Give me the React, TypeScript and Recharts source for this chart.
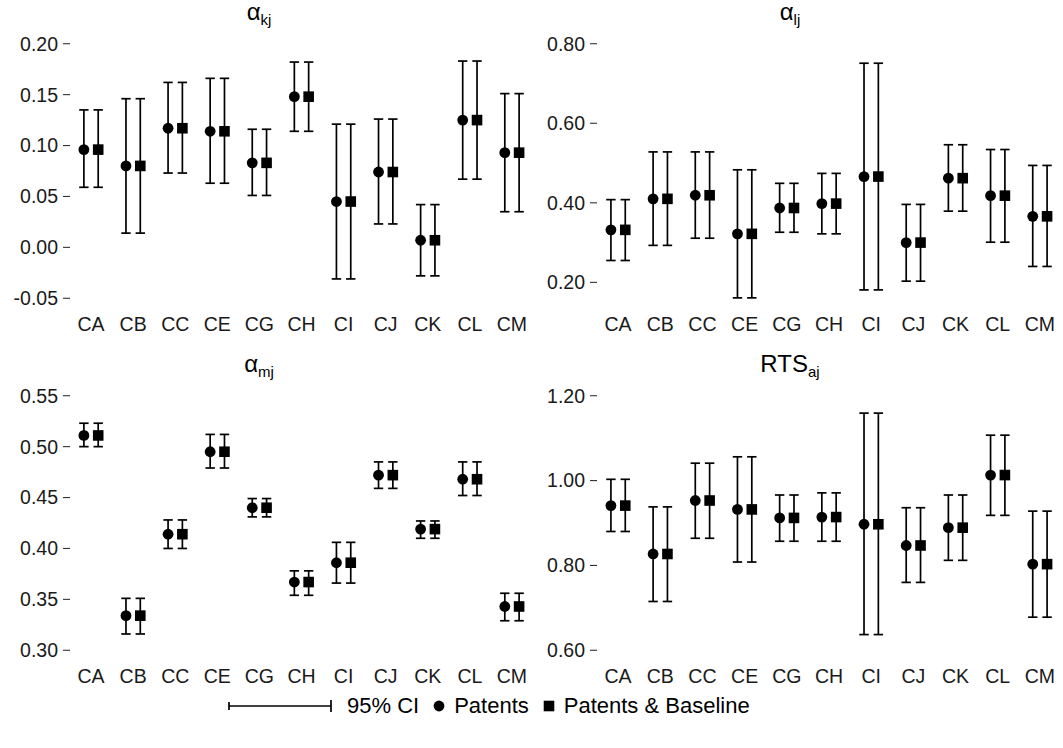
import { ScatterChart, Scatter, XAxis, YAxis, ErrorBar } from 'recharts'

const categories = ['CA', 'CB', 'CC', 'CE', 'CG', 'CH', 'CI', 'CJ', 'CK', 'CL', 'CM']

// alpha_kj
const kjEst = [0.096, 0.080, 0.117, 0.114, 0.083, 0.148, 0.045, 0.074, 0.007, 0.125, 0.093]
const kjLow = [0.059, 0.014, 0.073, 0.063, 0.051, 0.114, -0.031, 0.023, -0.028, 0.067, 0.035]
const kjHigh = [0.135, 0.146, 0.162, 0.166, 0.116, 0.182, 0.121, 0.126, 0.042, 0.183, 0.151]
const kjTicks = [-0.05, 0, 0.05, 0.1, 0.15, 0.2]

// alpha_lj
const ljEst = [0.332, 0.410, 0.419, 0.322, 0.387, 0.398, 0.466, 0.300, 0.462, 0.418, 0.366]
const ljLow = [0.255, 0.293, 0.311, 0.161, 0.326, 0.322, 0.181, 0.203, 0.379, 0.301, 0.240]
const ljHigh = [0.408, 0.528, 0.528, 0.483, 0.449, 0.474, 0.751, 0.396, 0.546, 0.534, 0.494]
const ljTicks = [0.2, 0.4, 0.6, 0.8]

// alpha_mj
const mjEst = [0.511, 0.334, 0.414, 0.495, 0.440, 0.367, 0.386, 0.472, 0.419, 0.468, 0.343]
const mjLow = [0.500, 0.316, 0.400, 0.479, 0.431, 0.354, 0.366, 0.459, 0.410, 0.452, 0.329]
const mjHigh = [0.523, 0.351, 0.428, 0.512, 0.449, 0.378, 0.406, 0.485, 0.427, 0.485, 0.356]
const mjTicks = [0.3, 0.35, 0.4, 0.45, 0.5, 0.55]

// RTS_aj
const rtsEst = [0.941, 0.827, 0.953, 0.932, 0.912, 0.914, 0.897, 0.847, 0.889, 1.013, 0.803]
const rtsLow = [0.880, 0.715, 0.864, 0.808, 0.857, 0.857, 0.637, 0.760, 0.812, 0.918, 0.678]
const rtsHigh = [1.003, 0.938, 1.041, 1.056, 0.966, 0.971, 1.159, 0.936, 0.966, 1.107, 0.928]
const rtsTicks = [0.6, 0.8, 1.0, 1.2]

const DODGE = 0.17
const FONT = '"Liberation Sans", Arial, Helvetica, sans-serif'
const TEXT = '#1a1a1a'

const rows = (est: number[], low: number[], high: number[], shift: number) =>
  est.map((v, i) => ({ x: i + 1 + shift, y: v, err: [v - low[i], high[i] - v] }))

const Dot = (p: any) => <circle cx={p.cx} cy={p.cy} r={5.4} fill="#000" />
const Square = (p: any) => <rect x={p.cx - 5.3} y={p.cy - 5.3} width={10.6} height={10.6} fill="#000" />

type PanelProps = {
  left: number
  top: number
  width: number
  domain: [number, number]
  ticks: number[]
  est: number[]
  low: number[]
  high: number[]
  title: React.ReactNode
  titleX: number
}

const Panel = ({ left, top, width, domain, ticks, est, low, high, title, titleX }: PanelProps) => (
  <div style={{ position: 'absolute', left, top, width, height: 340 }}>
    <div
      style={{
        position: 'absolute',
        left: titleX - 100,
        width: 200,
        top: 0,
        textAlign: 'center',
        fontSize: 24,
        fontFamily: FONT,
        color: '#000',
        lineHeight: '24px',
        whiteSpace: 'nowrap',
      }}
    >
      {title}
    </div>
    <ScatterChart width={width} height={340} margin={{ top: 31, right: 2, bottom: 0, left: 0 }}>
      <XAxis
        type="number"
        dataKey="x"
        domain={[0.5, 11.5]}
        ticks={categories.map((_, i) => i + 1)}
        tickFormatter={(v: number) => categories[v - 1]}
        axisLine={false}
        tickLine={false}
        tickSize={4}
        tickMargin={2}
        height={29}
        tick={{ fill: TEXT, fontSize: 19.5, fontFamily: FONT }}
        allowDataOverflow
      />
      <YAxis
        type="number"
        dataKey="y"
        domain={domain}
        ticks={ticks}
        tickFormatter={(v: number) => v.toFixed(2)}
        axisLine={false}
        tickLine={{ stroke: '#333', strokeWidth: 1.1 }}
        tickSize={7}
        tickMargin={5}
        width={70}
        tick={{ fill: TEXT, fontSize: 19.5, fontFamily: FONT }}
        allowDataOverflow
      />
      <Scatter data={rows(est, low, high, -DODGE)} shape={Dot} isAnimationActive={false}>
        <ErrorBar dataKey="err" direction="y" width={4.7} stroke="#000" strokeWidth={1.7} isAnimationActive={false} />
      </Scatter>
      <Scatter data={rows(est, low, high, DODGE)} shape={Square} isAnimationActive={false}>
        <ErrorBar dataKey="err" direction="y" width={4.7} stroke="#000" strokeWidth={1.7} isAnimationActive={false} />
      </Scatter>
    </ScatterChart>
  </div>
)

const sym = (main: string, sub: string) => (
  <span>
    {main}
    <sub style={{ fontSize: 15, verticalAlign: '-5px', lineHeight: 0 }}>{sub}</sub>
  </span>
)

export default function App() {
  return (
    <div style={{ position: 'absolute', left: 0, top: 0, width: 1063, height: 748, background: '#fff' }}>
      <Panel left={0} top={0} width={535} domain={[-0.0625, 0.2125]} ticks={kjTicks}
        est={kjEst} low={kjLow} high={kjHigh} title={sym('α', 'kj')} titleX={259} />
      <Panel left={527} top={0} width={536} domain={[0.128, 0.832]} ticks={ljTicks}
        est={ljEst} low={ljLow} high={ljHigh} title={sym('α', 'lj')} titleX={263} />
      <Panel left={0} top={352} width={535} domain={[0.2875, 0.5625]} ticks={mjTicks}
        est={mjEst} low={mjLow} high={mjHigh} title={sym('α', 'mj')} titleX={259} />
      <Panel left={527} top={352} width={536} domain={[0.57, 1.23]} ticks={rtsTicks}
        est={rtsEst} low={rtsLow} high={rtsHigh} title={sym('RTS', 'aj')} titleX={263} />
      <div
        style={{
          position: 'absolute',
          top: 693,
          left: 227,
          display: 'flex',
          alignItems: 'center',
          fontFamily: FONT,
          fontSize: 22,
          color: '#000',
          height: 26,
          whiteSpace: 'nowrap',
        }}
      >
        <svg width={106} height={14} style={{ marginRight: 14 }}>
          <line x1={2} y1={7} x2={104} y2={7} stroke="#000" strokeWidth={1.7} />
          <line x1={2} y1={3} x2={2} y2={11} stroke="#000" strokeWidth={1.7} />
          <line x1={104} y1={1} x2={104} y2={13} stroke="#000" strokeWidth={1.7} />
        </svg>
        <span>95% CI</span>
        <svg width={12} height={12} style={{ marginLeft: 14, marginRight: 9 }}>
          <circle cx={6} cy={6} r={5.4} fill="#000" />
        </svg>
        <span>Patents</span>
        <svg width={12} height={12} style={{ marginLeft: 14, marginRight: 9 }}>
          <rect x={0.7} y={0.7} width={10.6} height={10.6} fill="#000" />
        </svg>
        <span>Patents &amp; Baseline</span>
      </div>
    </div>
  )
}
